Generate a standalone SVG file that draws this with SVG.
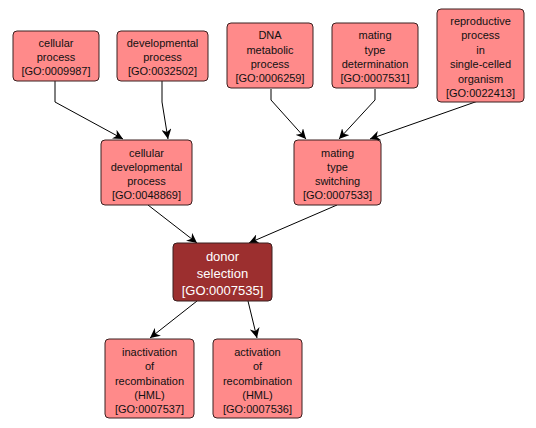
<svg xmlns="http://www.w3.org/2000/svg" width="536" height="428" viewBox="0 0 536 428">
<defs>
<style>
.n rect{fill:#ff8a8a;stroke:#3a2020;stroke-width:1}
.n text{font-family:"Liberation Sans",Arial,sans-serif;font-size:11px;fill:#111;text-anchor:middle}
.sel rect{fill:#9c2f2f;stroke:#3a2020;stroke-width:1}
.sel text{font-family:"Liberation Sans",Arial,sans-serif;font-size:13px;fill:#fff;text-anchor:middle}
.e{fill:none;stroke:#000;stroke-width:1;marker-end:url(#ah)}
</style>
<marker id="ah" viewBox="0 0 10 10" refX="10" refY="5" markerWidth="10" markerHeight="10" markerUnits="userSpaceOnUse" orient="auto">
<path d="M0,0 L10,5 L0,10 L3,5 Z" fill="#000"/>
</marker>
</defs>
<rect width="536" height="428" fill="#fff"/>
<g id="edges">
<polyline class="e" points="55,81 55,102 123,139"/>
<polyline class="e" points="162,81 162,102 168,139"/>
<polyline class="e" points="271,89 271,100 306,139"/>
<polyline class="e" points="375,89 375,100 339,139"/>
<polyline class="e" points="478,101 370,139"/>
<polyline class="e" points="148,205 197,243"/>
<polyline class="e" points="337,205 249,243"/>
<polyline class="e" points="197,301 150,338"/>
<polyline class="e" points="248,301 257,338"/>
</g>
<g id="GO0009987" class="n"><rect x="13" y="31" width="86" height="50" rx="4"/><text x="56" y="47">cellular</text><text x="56" y="61">process</text><text x="56" y="75">[GO:0009987]</text></g>
<g id="GO0032502" class="n"><rect x="117" y="31" width="91" height="50" rx="4"/><text x="162.5" y="47">developmental</text><text x="162.5" y="61">process</text><text x="162.5" y="75">[GO:0032502]</text></g>
<g id="GO0006259" class="n"><rect x="227" y="23" width="86" height="65" rx="4"/><text x="270" y="39">DNA</text><text x="270" y="53.5">metabolic</text><text x="270" y="68">process</text><text x="270" y="82">[GO:0006259]</text></g>
<g id="GO0007531" class="n"><rect x="332" y="23" width="86" height="65" rx="4"/><text x="375" y="39">mating</text><text x="375" y="53.5">type</text><text x="375" y="68">determination</text><text x="375" y="82">[GO:0007531]</text></g>
<g id="GO0022413" class="n"><rect x="437" y="9" width="87" height="93" rx="4"/><text x="480.5" y="25">reproductive</text><text x="480.5" y="39">process</text><text x="480.5" y="53.5">in</text><text x="480.5" y="68">single-celled</text><text x="480.5" y="82.5">organism</text><text x="480.5" y="97">[GO:0022413]</text></g>
<g id="GO0048869" class="n"><rect x="101" y="140" width="91" height="65" rx="4"/><text x="146.5" y="156.5">cellular</text><text x="146.5" y="171">developmental</text><text x="146.5" y="185">process</text><text x="146.5" y="199">[GO:0048869]</text></g>
<g id="GO0007533" class="n"><rect x="294" y="140" width="87" height="65" rx="4"/><text x="337.5" y="156.5">mating</text><text x="337.5" y="171">type</text><text x="337.5" y="185">switching</text><text x="337.5" y="199">[GO:0007533]</text></g>
<g id="GO0007535" class="sel"><rect x="173" y="243" width="99" height="58" rx="4"/><text x="222.5" y="261">donor</text><text x="222.5" y="278">selection</text><text x="222.5" y="294.5">[GO:0007535]</text></g>
<g id="GO0007537" class="n"><rect x="105" y="339" width="89" height="79" rx="4"/><text x="149.5" y="355.5">inactivation</text><text x="149.5" y="370">of</text><text x="149.5" y="384.5">recombination</text><text x="149.5" y="398.5">(HML)</text><text x="149.5" y="413">[GO:0007537]</text></g>
<g id="GO0007536" class="n"><rect x="213" y="339" width="89" height="79" rx="4"/><text x="257.5" y="355.5">activation</text><text x="257.5" y="370">of</text><text x="257.5" y="384.5">recombination</text><text x="257.5" y="398.5">(HML)</text><text x="257.5" y="413">[GO:0007536]</text></g>
</svg>
